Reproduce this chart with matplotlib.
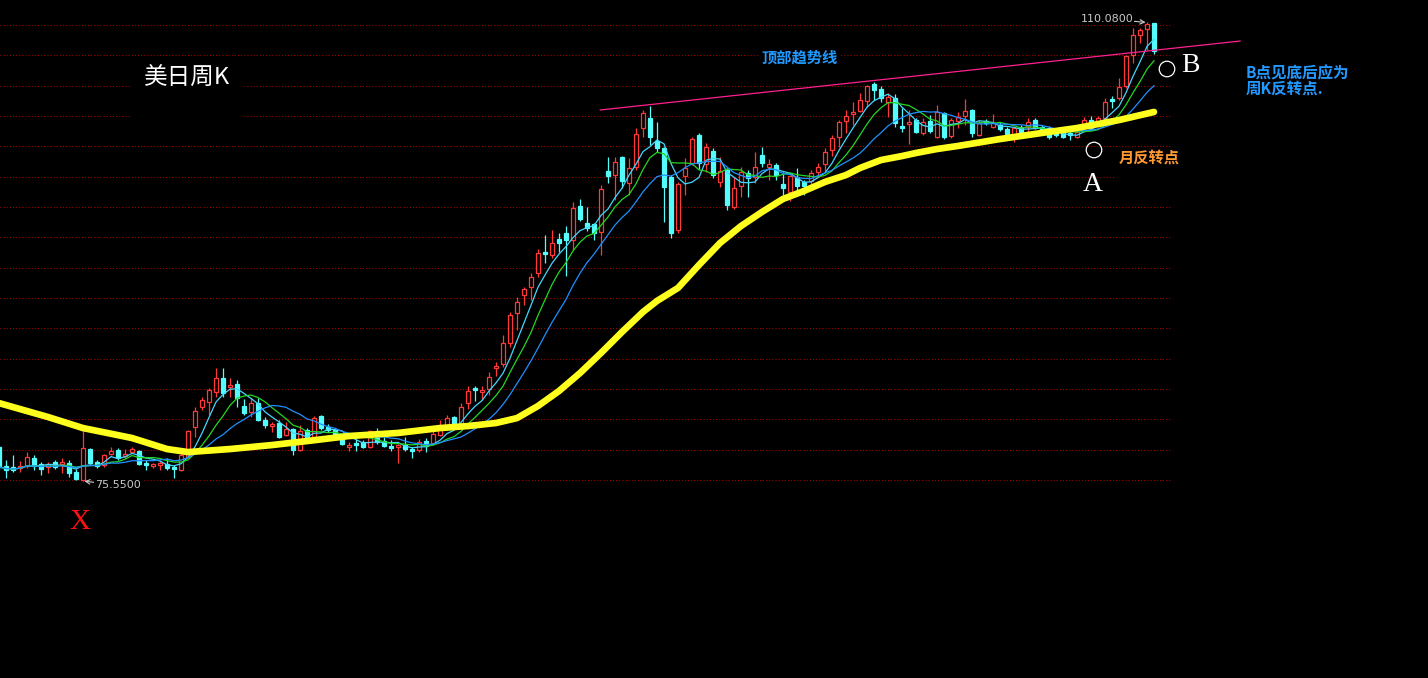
import numpy as np
import pandas as pd
import matplotlib
matplotlib.use("Agg")
import matplotlib.pyplot as plt
from matplotlib.patches import Rectangle

# === Weekly USD/JPY candles (oldest first) ===
opens = [
    78.11, 76.68, 76.61, 76.53, 76.68, 77.28, 76.83, 76.61, 76.98, 76.83,
    76.91, 76.23, 75.63, 77.96, 76.98, 76.76, 77.58, 77.89, 77.43, 77.73,
    77.81, 76.91, 76.68, 76.76, 76.83, 76.61, 76.38, 77.36, 79.62, 81.12,
    81.50, 82.25, 83.31, 82.63, 82.85, 81.20, 80.75, 81.42, 80.14, 79.69,
    79.92, 79.01, 79.47, 77.89, 79.39, 78.86, 80.44, 79.62, 79.39, 78.79,
    78.11, 78.41, 78.49, 78.11, 78.79, 78.56, 78.19, 78.11, 78.26, 77.96,
    77.89, 78.56, 78.41, 79.01, 79.62, 80.37, 79.77, 81.42, 82.55, 82.25,
    82.48, 84.06, 84.36, 85.94, 88.20, 89.56, 90.16, 91.21, 92.79, 92.57,
    93.77, 94.23, 93.70, 96.26, 94.98, 94.90, 94.30, 98.89, 98.59, 99.95,
    97.99, 99.20, 102.13, 102.89, 101.15, 100.63, 98.44, 94.45, 98.52, 99.50,
    101.60, 99.42, 100.40, 98.07, 98.97, 96.18, 97.76, 98.74, 98.44, 100.10,
    99.20, 99.35, 97.91, 97.31, 98.44, 98.07, 98.14, 98.82, 99.42, 100.48,
    101.45, 102.66, 103.19, 103.41, 104.16, 105.45, 105.07, 104.09, 104.39, 102.28,
    102.43, 102.73, 101.76, 102.66, 101.45, 103.26, 101.53, 102.66, 103.04, 103.49,
    101.60, 102.66, 102.21, 102.36, 102.06, 101.68, 102.21, 102.21, 102.73, 102.21,
    102.13, 101.83, 101.83, 101.76, 101.45, 102.36, 102.73, 102.36, 102.89, 104.32,
    104.39, 105.29, 107.63, 109.13, 109.59, 110.04,
]
highs = [
    78.26, 77.13, 77.51, 77.06, 77.73, 77.51, 76.98, 76.98, 77.13, 77.28,
    77.13, 76.46, 79.54, 78.04, 77.13, 77.58, 78.11, 78.04, 77.96, 78.11,
    77.89, 77.13, 76.91, 77.06, 77.28, 76.76, 77.66, 79.39, 81.12, 81.88,
    82.55, 84.06, 84.06, 83.31, 83.16, 81.73, 81.80, 81.80, 80.37, 79.99,
    80.14, 79.99, 79.54, 79.77, 79.54, 80.44, 80.52, 79.84, 79.54, 79.17,
    78.49, 78.71, 78.64, 79.39, 79.54, 78.86, 78.64, 78.34, 78.86, 78.11,
    78.71, 78.79, 79.32, 80.14, 80.52, 80.44, 81.42, 82.70, 82.70, 82.70,
    83.76, 84.51, 86.55, 88.28, 89.41, 90.16, 91.21, 93.02, 94.07, 94.45,
    94.23, 94.75, 96.56, 96.79, 96.18, 94.98, 97.84, 99.95, 99.95, 100.02,
    99.87, 102.13, 103.49, 103.79, 102.58, 100.70, 98.59, 98.07, 99.87, 101.45,
    101.76, 101.00, 100.63, 99.95, 99.12, 98.44, 99.20, 98.97, 100.32, 100.70,
    99.80, 99.50, 98.82, 98.59, 99.12, 98.22, 98.97, 99.50, 100.63, 101.60,
    102.73, 103.49, 104.09, 104.77, 105.37, 105.60, 105.29, 104.77, 104.69, 103.64,
    103.49, 102.89, 102.89, 103.11, 103.86, 103.34, 102.89, 103.34, 104.32, 103.56,
    102.73, 102.81, 103.19, 102.58, 102.21, 102.21, 102.36, 102.89, 102.89, 102.36,
    102.28, 101.98, 101.98, 101.91, 101.98, 102.96, 103.04, 103.04, 104.39, 104.54,
    105.90, 107.63, 109.66, 109.66, 110.08, 110.05,
]
lows = [
    76.38, 75.78, 76.23, 76.23, 76.53, 76.38, 76.00, 76.15, 76.46, 76.15,
    75.85, 75.63, 75.55, 76.83, 76.53, 76.61, 77.51, 77.13, 77.28, 77.66,
    76.76, 76.38, 76.53, 76.38, 76.38, 75.78, 76.30, 77.28, 78.86, 80.90,
    80.52, 81.88, 81.88, 81.88, 81.12, 80.52, 80.37, 80.07, 79.54, 79.24,
    78.79, 78.94, 77.51, 77.81, 78.64, 78.79, 79.39, 79.24, 78.94, 78.26,
    77.81, 77.81, 78.04, 78.04, 78.34, 78.11, 77.81, 76.91, 77.81, 77.28,
    77.73, 77.73, 78.26, 78.94, 79.54, 79.69, 79.62, 80.97, 81.57, 81.65,
    82.03, 83.46, 84.13, 85.64, 86.92, 88.80, 89.18, 90.91, 91.97, 92.34,
    92.79, 90.99, 92.95, 95.13, 94.38, 93.70, 92.57, 97.99, 96.71, 97.61,
    97.09, 98.97, 101.45, 100.85, 100.32, 95.05, 93.85, 94.23, 97.09, 99.35,
    99.04, 98.82, 98.37, 97.69, 95.96, 96.03, 96.94, 96.94, 97.99, 99.20,
    98.22, 98.22, 97.09, 96.63, 97.09, 97.09, 97.91, 98.44, 98.82, 100.02,
    100.70, 101.76, 102.36, 103.34, 103.71, 104.24, 104.09, 102.96, 102.21, 101.83,
    100.93, 101.76, 101.60, 101.76, 101.38, 101.30, 101.38, 102.13, 102.36, 101.45,
    101.53, 102.36, 102.13, 101.91, 101.60, 101.08, 101.68, 101.83, 102.06, 101.83,
    101.30, 101.45, 101.38, 101.23, 101.38, 102.13, 101.98, 102.21, 102.73, 103.64,
    104.24, 105.14, 107.03, 108.53, 108.01, 107.70,
]
closes = [
    76.61, 76.38, 76.38, 76.68, 77.36, 76.68, 76.46, 76.83, 76.61, 76.98,
    76.15, 75.70, 78.04, 76.91, 76.68, 77.51, 77.81, 77.28, 77.58, 77.96,
    76.83, 76.76, 76.83, 76.91, 76.53, 76.46, 77.51, 79.32, 80.82, 81.65,
    82.40, 83.31, 82.18, 82.78, 81.80, 80.67, 81.42, 80.14, 79.77, 79.84,
    78.86, 79.47, 77.89, 79.32, 78.79, 80.29, 79.54, 79.39, 79.09, 78.34,
    78.26, 78.26, 78.11, 79.32, 78.49, 78.19, 78.04, 78.26, 77.96, 77.81,
    78.49, 78.19, 79.09, 79.54, 80.29, 79.77, 81.12, 82.33, 82.40, 82.40,
    83.38, 84.21, 85.94, 88.05, 89.03, 90.01, 90.91, 92.72, 92.64, 93.47,
    93.47, 93.70, 96.11, 95.28, 94.60, 94.23, 97.54, 98.52, 99.57, 98.14,
    99.12, 101.68, 103.26, 101.45, 100.63, 97.69, 94.23, 97.92, 99.12, 101.30,
    99.50, 100.70, 98.59, 98.89, 96.33, 97.61, 98.82, 98.37, 99.20, 99.50,
    99.42, 98.59, 97.61, 98.52, 97.76, 97.76, 98.74, 99.20, 100.32, 101.38,
    102.58, 103.04, 103.34, 104.24, 105.29, 104.99, 104.39, 104.47, 102.51, 102.13,
    102.58, 101.83, 102.58, 101.91, 103.34, 101.45, 102.73, 102.96, 103.41, 101.76,
    102.51, 102.51, 102.51, 102.06, 101.68, 102.13, 101.83, 102.58, 102.21, 101.98,
    101.45, 101.60, 101.45, 101.60, 101.83, 102.73, 102.51, 102.89, 104.09, 104.16,
    105.22, 107.55, 109.13, 109.51, 109.96, 107.93,
]

# thick yellow long average, read at points along the curve
ma_long_idx = [0, 7, 12, 19, 24, 27, 33, 39, 44, 50, 57, 63, 67, 71, 74, 77, 80, 83, 86,
               89, 92, 94, 97, 100, 103, 106, 109, 112, 115, 118, 121, 123, 126, 129, 131,
               134, 137, 143, 149, 154, 160, 165]
ma_long_val = [81.42, 80.37, 79.54, 78.79, 77.96, 77.73, 77.96, 78.26, 78.56, 78.94,
               79.17, 79.54, 79.69, 79.92, 80.29, 81.20, 82.33, 83.68, 85.19, 86.77,
               88.28, 89.11, 90.09, 91.82, 93.47, 94.75, 95.81, 96.79, 97.39, 98.07,
               98.59, 99.12, 99.72, 100.02, 100.25, 100.55, 100.78, 101.30, 101.76,
               102.13, 102.73, 103.34]

# short averages (periods) and colours
ma_short = [(5, "#44d8ff"), (8, "#22d822"), (13, "#2090ff")]

# top trend line (candle index, price)
trend_idx = [85.9, 177.3]
trend_val = [103.49, 108.68]

# === Figure ===
W, H = 1428, 678
df = pd.DataFrame({"open": opens, "high": highs, "low": lows, "close": closes})
x = np.arange(len(df))
o, h, l, c = (df[k].values for k in ["open", "high", "low", "close"])
up = c >= o
body_lo = np.minimum(o, c)
body_hi = np.maximum(o, c)

fig = plt.figure(figsize=(W / 100, H / 100), dpi=100, facecolor="black")
ax = fig.add_axes([0, 0, 1, 1])
ax.set_facecolor("black")
ax.set_xlim(1 / 7, (W + 1) / 7)
ax.set_ylim(60.72, 111.77)
ax.axis("off")


def frac(xp, yp):
    # pixel position -> axes fraction (for the hand-written notes)
    return xp / W, 1 - yp / H


# dotted price grid
grid_levels = 75.63 + 2.284 * np.arange(16)
ax.hlines(grid_levels, 1 / 7, 167.6, colors="#a80000", linestyles=(0, (1, 2)), lw=0.75, zorder=1)

# candles
red, cyan = "#ff3838", "#54fcfc"
ax.vlines(x[up], body_hi[up], h[up], color=red, lw=0.9, zorder=2)
ax.vlines(x[up], l[up], body_lo[up], color=red, lw=0.9, zorder=2)
ax.vlines(x[~up], l[~up], h[~up], color=cyan, lw=0.9, zorder=2)
ax.bar(x[up], (body_hi - body_lo)[up], bottom=body_lo[up], width=0.64,
       facecolor="black", edgecolor=red, lw=0.9, zorder=3)
ax.bar(x[~up], (body_hi - body_lo)[~up], bottom=body_lo[~up], width=0.64,
       facecolor=cyan, edgecolor=cyan, lw=0.9, zorder=3)

# moving averages
cs = pd.Series(c)
for n, col in ma_short:
    ax.plot(x, cs.rolling(n, min_periods=1).mean(), color=col, lw=0.9, zorder=4)
ax.plot(ma_long_idx, ma_long_val, color="#ffff1e", lw=4.8, solid_capstyle="round",
        solid_joinstyle="round", zorder=5)

# trend line
ax.plot(trend_idx, trend_val, color="#ff2090", lw=0.9, zorder=6)

# extreme labels
ihi, ilo = int(np.argmax(h)), int(np.argmin(l))
lab = "#c8c8c8"
ax.annotate(f"{h[ihi]:.4f}", xy=(ihi, h[ihi]), xytext=(-10, 2.5), textcoords="offset points",
            ha="right", va="center", color=lab, fontsize=8,
            bbox=dict(boxstyle="square,pad=0.1", fc="black", ec="none"),
            arrowprops=dict(arrowstyle="->", color=lab, lw=0.8, shrinkA=0, shrinkB=1), zorder=9)
ax.annotate(f"{l[ilo]:.4f}", xy=(ilo, l[ilo]), xytext=(9, -3), textcoords="offset points",
            ha="left", va="center", color=lab, fontsize=8,
            bbox=dict(boxstyle="square,pad=0.1", fc="black", ec="none"),
            arrowprops=dict(arrowstyle="->", color=lab, lw=0.8, shrinkA=0, shrinkB=1), zorder=9)

# notes
cjk = ["Noto Sans CJK SC", "DejaVu Sans"]
serif = ["Liberation Serif", "DejaVu Serif"]
blue = "#2299ff"
ax.add_patch(Rectangle(frac(130, 128), 113 / W, 68 / H, transform=ax.transAxes,
                       color="black", zorder=7))
ax.add_patch(Rectangle(frac(1115, 182), 60 / W, 32 / H, transform=ax.transAxes,
                       color="black", zorder=7))
ax.text(*frac(187, 78), "美日周K", color="white", fontsize=17, family=cjk,
        ha="center", va="center", transform=ax.transAxes, zorder=8)
ax.text(*frac(800, 58), "顶部趋势线", color=blue, fontsize=11, family=cjk, weight="bold",
        ha="center", va="center", transform=ax.transAxes, zorder=8,
        bbox=dict(boxstyle="square,pad=0.15", fc="black", ec="none"))
ax.text(*frac(1149, 158), "月反转点", color="#ff9933", fontsize=11, family=cjk, weight="bold",
        ha="center", va="center", transform=ax.transAxes, zorder=8)
ax.text(*frac(1246, 81), "B点见底后应为\n周K反转点.", color=blue, fontsize=11.2, family=cjk,
        weight="bold", ha="left", va="center", linespacing=1.0,
        transform=ax.transAxes, zorder=8)
ax.text(*frac(1190, 65), "B", color="white", fontsize=20, family=serif,
        ha="center", va="center", transform=ax.transAxes, zorder=8)
ax.text(*frac(1093, 184), "A", color="white", fontsize=20, family=serif,
        ha="center", va="center", transform=ax.transAxes, zorder=8)
ax.text(*frac(80, 522), "X", color="#ff1010", fontsize=21, family=serif,
        ha="center", va="center", transform=ax.transAxes, zorder=8)

# A / B turning-point circles
ax.scatter([frac(1094, 150)[0], frac(1167, 69)[0]], [frac(1094, 150)[1], frac(1167, 69)[1]],
           s=125, facecolors="none", edgecolors="white", linewidths=0.9,
           transform=ax.transAxes, zorder=8)

plt.savefig("out.png", dpi=100, facecolor="black")
